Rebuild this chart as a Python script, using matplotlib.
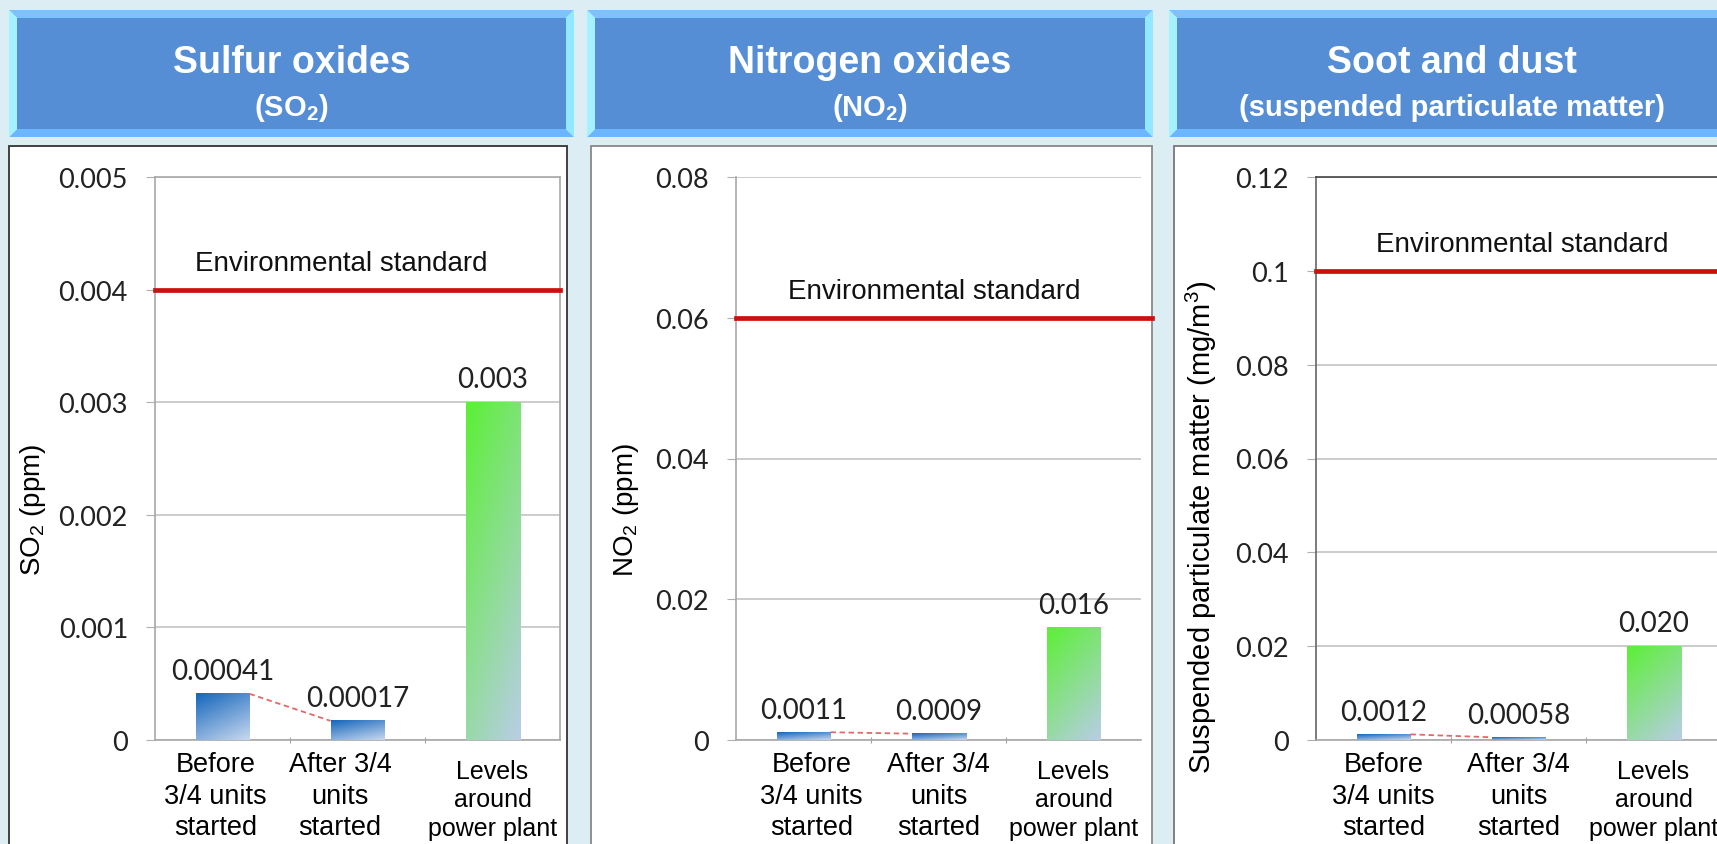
import numpy as np
import matplotlib
matplotlib.use("Agg")
import matplotlib.pyplot as plt
from matplotlib.patches import Rectangle, Polygon
from matplotlib.colors import to_rgb

plt.rcParams['font.family'] = ['Liberation Sans', 'DejaVu Sans']
plt.rcParams['mathtext.fontset'] = 'custom'
plt.rcParams['mathtext.rm'] = 'Liberation Sans'
plt.rcParams['mathtext.bf'] = 'Liberation Sans:bold'
plt.rcParams['mathtext.it'] = 'Liberation Sans:italic'

# ---- data ----
categories = ["Before\n3/4 units\nstarted", "After 3/4\nunits\nstarted", "Levels\naround\npower plant"]

titles = ["Sulfur oxides", "Nitrogen oxides", "Soot and dust"]
subtitles = [r"$\mathbf{(SO_2)}$", r"$\mathbf{(NO_2)}$", "(suspended particulate matter)"]
ylabels = [r"$\mathrm{SO_2}$ (ppm)", r"$\mathrm{NO_2}$ (ppm)",
           r"Suspended particulate matter (mg/m$^3$)"]

so2 = [0.00041, 0.00017, 0.003]
no2 = [0.0011, 0.0009, 0.016]
spm = [0.0012, 0.00058, 0.020]
so2_labels = ["0.00041", "0.00017", "0.003"]
no2_labels = ["0.0011", "0.0009", "0.016"]
spm_labels = ["0.0012", "0.00058", "0.020"]

standards = [0.004, 0.06, 0.1]
so2_ticks = [0, 0.001, 0.002, 0.003, 0.004, 0.005]
no2_ticks = [0, 0.02, 0.04, 0.06, 0.08]
spm_ticks = [0, 0.02, 0.04, 0.06, 0.08, 0.1, 0.12]
so2_ticklabels = ["0", "0.001", "0.002", "0.003", "0.004", "0.005"]
no2_ticklabels = ["0", "0.02", "0.04", "0.06", "0.08"]
spm_ticklabels = ["0", "0.02", "0.04", "0.06", "0.08", "0.1", "0.12"]

values = [so2, no2, spm]
value_labels = [so2_labels, no2_labels, spm_labels]
ticks = [so2_ticks, no2_ticks, spm_ticks]
ticklabels = [so2_ticklabels, no2_ticklabels, spm_ticklabels]

# ---- layout (pixels) ----
W, H = 1717, 845
fig = plt.figure(figsize=(W / 100, H / 100), dpi=100)
fig.patch.set_facecolor('#dcedf3')

bg = fig.add_axes([0, 0, 1, 1])
bg.set_xlim(0, W)
bg.set_ylim(H, 0)
bg.axis('off')

headers = [(9, 574), (587, 1153), (1169, 1735)]
boxes = [(9, 567, '#333333'), (591, 1152, '#888888'), (1174, 1740, '#777777')]
ax_left = [155, 736, 1316]
ax_w, ax_top, ax_bot = 405, 178, 741

hy0, hy1, bev = 11, 138, 8
for (x0, x1), title, sub in zip(headers, titles, subtitles):
    bg.add_patch(Polygon([(x0, hy0), (x1, hy0), (x1 - bev, hy0 + bev), (x0 + bev, hy0 + bev)],
                         color='#7cc2ff', lw=0))
    bg.add_patch(Polygon([(x0, hy1), (x1, hy1), (x1 - bev, hy1 - bev), (x0 + bev, hy1 - bev)],
                         color='#6cb6ff', lw=0))
    bg.add_patch(Polygon([(x0, hy0), (x0 + bev, hy0 + bev), (x0 + bev, hy1 - bev), (x0, hy1)],
                         color='#a4f2ff', lw=0))
    bg.add_patch(Polygon([(x1, hy0), (x1 - bev, hy0 + bev), (x1 - bev, hy1 - bev), (x1, hy1)],
                         color='#92e8ff', lw=0))
    bg.add_patch(Rectangle((x0 + bev, hy0 + bev), x1 - x0 - 2 * bev, hy1 - hy0 - 2 * bev,
                           color='#558ed5', lw=0))
    cx = (x0 + x1) / 2
    bg.text(cx, 63, title, color='white', fontsize=27, fontweight='bold',
            ha='center', va='center')
    bg.text(cx, 108, sub, color='white', fontsize=21, fontweight='bold',
            ha='center', va='center')

for x0, x1, ec in boxes:
    bg.add_patch(Rectangle((x0, 147), x1 - x0, 720, facecolor='white',
                           edgecolor=ec, lw=1.3))

blue = (to_rgb('#1466bc'), to_rgb('#c8d8ef'))
green = (to_rgb('#5cf036'), to_rgb('#b9cde6'))


def gradient_bar(ax, bar, cols):
    x0, y0 = bar.get_x(), bar.get_y()
    w, h = bar.get_width(), bar.get_height()
    u = np.linspace(0, 1, 40)[None, :]
    v = np.linspace(0, 1, 80)[:, None]
    t = np.clip(0.65 * v + 0.35 * u, 0, 1)[..., None]
    img = (1 - t) * np.array(cols[0]) + t * np.array(cols[1])
    ax.imshow(img, extent=(x0, x0 + w, y0, y0 + h), origin='upper',
              aspect='auto', zorder=3, interpolation='bilinear')


label_shift = [[-0.05, -0.13, 0.0], [0.06, 0.0, 0.0], [0.0, 0.0, 0.0]]
label_pos = [(-0.265, 0.41), (-0.235, 0.41), (-0.24, 0.38)]
ylabel_size = [20, 20, 21]
std_x = [0.46, 0.49, 0.51]
std_xmax = [1.0, 1.027, 1.0]

for i in range(3):
    ax = fig.add_axes([ax_left[i] / W, (H - ax_bot) / H, ax_w / W, (ax_bot - ax_top) / H])
    ax.set_facecolor('none')
    x = np.arange(len(categories))
    bars = ax.bar(x, values[i], width=0.4, color='none', zorder=3)
    for j, b in enumerate(bars):
        gradient_bar(ax, b, green if j == 2 else blue)
        ax.annotate(value_labels[i][j], (x[j], values[i][j]), xytext=(0, 7),
                    textcoords='offset points', ha='center', va='bottom',
                    fontsize=20, family='Lato', color='#222222', zorder=5)

    # dashed link between the first two bars
    ax.plot([x[0] + 0.2, x[1] - 0.2], [values[i][0], values[i][1]],
            ls=(0, (3, 2)), color='#e06a6a', lw=1.3, zorder=4)

    ax.axhline(standards[i], xmin=0, xmax=std_xmax[i], color='#cc1010', lw=3.4,
               zorder=4, clip_on=False)
    ax.annotate("Environmental standard", (std_x[i], standards[i]),
                xycoords=ax.get_yaxis_transform(), xytext=(0, 19),
                textcoords='offset points', ha='center', va='center',
                fontsize=20, color='#111111')

    ax.set_xlim(-0.5, 2.5)
    ax.set_ylim(0, ticks[i][-1])
    ax.set_yticks(ticks[i])
    ax.set_yticklabels(ticklabels[i], family='Lato', fontsize=19.5, color='#222222')
    ax.tick_params(axis='y', length=6.5, color='#b0b0b0', pad=13)
    ax.set_xticks([0.5, 1.5])
    ax.set_xticklabels([])
    ax.tick_params(axis='x', length=5, direction='inout', color='#a0a0a0')
    ax.yaxis.grid(True, color='#c8c8c8', lw=1.3)
    ax.set_axisbelow(True)

    trans = ax.get_xaxis_transform()
    for j, cat in enumerate(categories):
        if j == 2:
            ax.text(x[j] + label_shift[i][j], -0.033, cat, transform=trans,
                    ha='center', va='top', fontsize=18, linespacing=1.25)
        else:
            ax.text(x[j] + label_shift[i][j], -0.02, cat, transform=trans,
                    ha='center', va='top', fontsize=19.5, linespacing=1.27)

    ax.set_ylabel(ylabels[i], fontsize=ylabel_size[i])
    ax.yaxis.set_label_coords(*label_pos[i])

    for s in ax.spines.values():
        s.set_color('#a8a8a8')
        s.set_linewidth(1.2)
    if i == 1:
        ax.spines['top'].set_visible(False)
        ax.spines['right'].set_visible(False)
    if i == 2:
        ax.spines['top'].set_color('#444444')
        ax.spines['left'].set_color('#666666')

fig.savefig("out.png", dpi=100)
